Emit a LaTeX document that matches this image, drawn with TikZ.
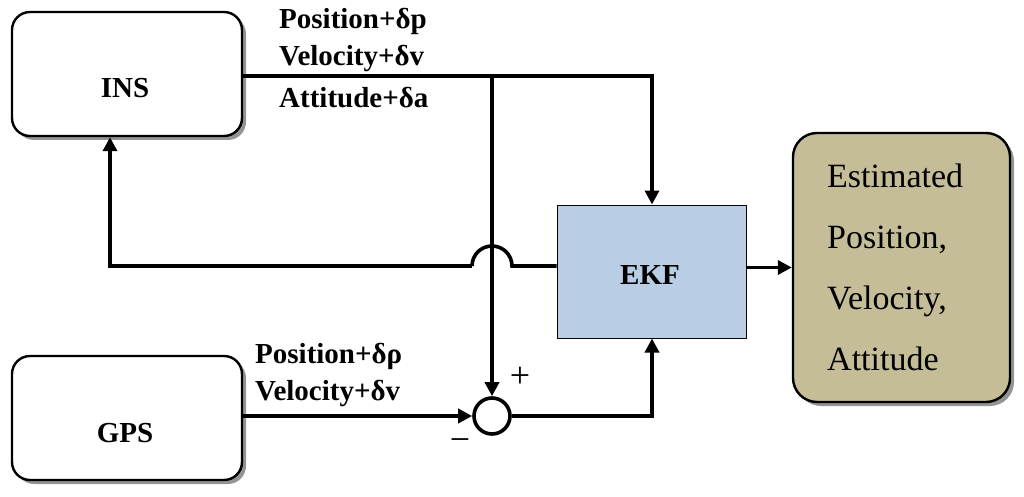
\documentclass[tikz,border=0pt]{standalone}
\usepackage{fontspec}
\setmainfont{Liberation Serif}
\usetikzlibrary{arrows.meta,shadows,calc}
\begin{document}
\begin{tikzpicture}[x=1pt,y=-1pt,
  wire/.style={line width=3.6pt},
  arr/.style={wire,-{Triangle[length=14pt,width=14pt]}},
  rbox/.style={draw,line width=2.4pt,rounded corners=18pt,fill=white,
     drop shadow={shadow xshift=4pt,shadow yshift=-4pt,fill=black!60,opacity=0.7}},
  big/.style={font=\bfseries\fontsize{29}{32}\selectfont},
  lbl/.style={font=\bfseries\fontsize{29}{32}\selectfont,anchor=west,inner sep=0pt}]
\useasboundingbox (0,0) rectangle (1024,497);
\node[rbox,minimum width=230pt,minimum height=124pt,big] (ins) at (127,74) {};
\node[big,inner sep=0pt] (inst) at (125,88) {INS};
\node[rbox,minimum width=230pt,minimum height=124pt] (gps) at (127,418) {};
\node[big,inner sep=0pt] (gpst) at (125,433) {GPS};
\node[draw,line width=1pt,fill={rgb,255:red,185;green,205;blue,229},minimum width=189pt,minimum height=133pt] (ekf) at (651.5,271.5) {};
\node[big,inner sep=0pt] (ekft) at (650,275) {EKF};
\node[rbox,fill={rgb,255:red,196;green,189;blue,151},minimum width=217pt,minimum height=269pt,rounded corners=24pt] (out) at (901.5,267.5) {};
\node[font=\fontsize{34}{61}\selectfont,align=left,anchor=west,inner sep=0pt] (outtxt) at (827,267) {Estimated\\Position,\\Velocity,\\Attitude};
\node[draw,line width=3.6pt,circle,minimum size=36pt,inner sep=0pt] (sum) at (492,416) {};
\node[lbl] (l1) at (279,21) {Position+δp};
\node[lbl] (l2) at (279,58) {Velocity+δv};
\node[lbl] (l3) at (279,98) {Attitude+δa};
\node[lbl] (l4) at (255,356) {Position+δρ};
\node[lbl] (l5) at (255,393) {Velocity+δv};
\node[font=\fontsize{36}{38}\selectfont,inner sep=0pt] (plus) at (520,377) {+};
\node[font=\fontsize{36}{38}\selectfont,inner sep=0pt] (minus) at (460,445) {−};
\coordinate (c1) at (652,76);
\coordinate (b1) at (492,76);
\coordinate (c2) at (652,416);
\coordinate (j1) at (512,266);
\coordinate (j2) at (472,266);
\coordinate (c3) at (110,266);
\draw[arr] (ins.east |- c1) -- (c1) -- (ekf.north -| c1);
\draw[arr] (b1) -- (sum.north);
\draw[arr] (gps.east |- sum) -- (sum.west);
\draw[arr] (sum.east) -- (c2) -- (ekf.south -| c2);
\draw[wire] (ekf.west |- j1) -- (j1) arc[start angle=0,end angle=180,radius=20pt];
\draw[arr] (j2) -- (c3) -- (ins.south -| c3);
\draw[arr] (ekf.east |- out.west) -- (out.west);
\end{tikzpicture}
\end{document}
